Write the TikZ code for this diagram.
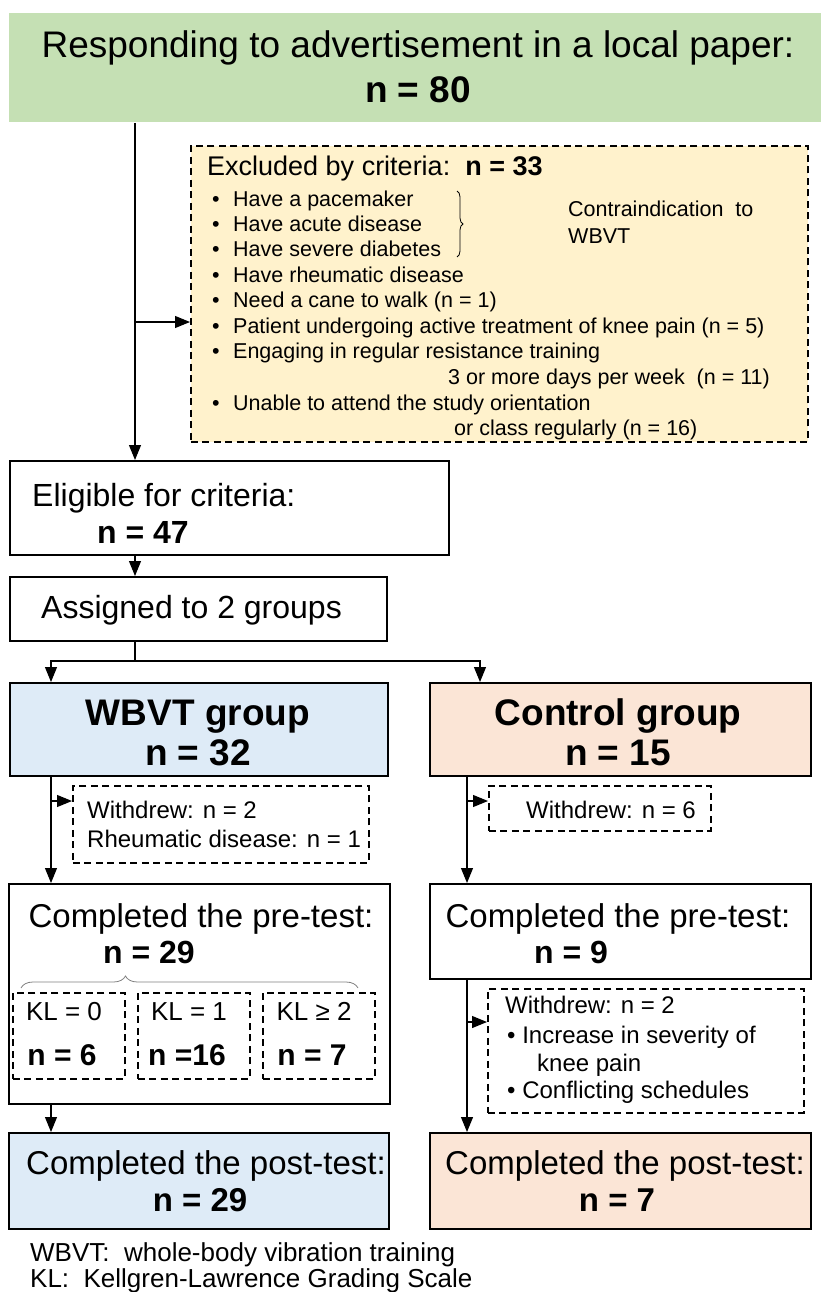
\documentclass[tikz,border=0pt]{standalone}
\usepackage{fontspec}
\setmainfont{Liberation Sans}
\usepackage{xcolor}
\usepackage{tikz}
\usetikzlibrary{arrows.meta,positioning,calc,decorations.pathreplacing}

\definecolor{adgreen}{HTML}{C5E0B4}
\definecolor{exyellow}{HTML}{FFF2CC}
\definecolor{wbblue}{HTML}{DEEBF7}
\definecolor{ctorange}{HTML}{FBE5D6}
\newcommand{\px}[1]{\fontsize{#1}{#1}\selectfont}

\begin{document}
\begin{tikzpicture}[x=1pt,y=-1pt,
  box/.style={draw, line width=1.8pt, inner sep=0pt, anchor=north west},
  dbox/.style={draw, line width=1.6pt, dash pattern=on 7pt off 4.5pt, inner sep=0pt, anchor=north west},
  link/.style={line width=1.1pt, -{Triangle[length=15pt,width=12pt]}},
  lab/.style={inner sep=0pt, anchor=base west},
  clab/.style={inner sep=0pt, anchor=base}]
  \useasboundingbox (0,0) rectangle (821,1292);

  \node[box, draw=none, fill=adgreen, minimum width=813, minimum height=109] (ad) at (8,12) {};
  \node[dbox, fill=exyellow, minimum width=617, minimum height=296] (excl) at (190,145) {};
  \node[box, minimum width=439, minimum height=94] (elig) at (9,460) {};
  \node[box, minimum width=377, minimum height=64] (assign) at (9,576) {};
  \node[box, fill=wbblue, minimum width=378, minimum height=93] (wbvt) at (9,682) {};
  \node[box, fill=ctorange, minimum width=381, minimum height=93] (ctrl) at (429,682) {};
  \node[dbox, minimum width=296, minimum height=77] (wdA) at (72,785) {};
  \node[dbox, minimum width=222, minimum height=45] (wdB) at (488,785) {};
  \node[box, minimum width=381, minimum height=220] (preA) at (8,883) {};
  \node[box, minimum width=381, minimum height=95] (preB) at (429,883) {};
  \node[dbox, minimum width=316, minimum height=124] (wdC) at (487,988) {};
  \node[box, fill=wbblue, minimum width=380, minimum height=96] (postA) at (8,1132) {};
  \node[box, fill=ctorange, minimum width=381, minimum height=96] (postB) at (429,1132) {};

  \node[clab, font=\px{37}] at (418,58) {Responding to advertisement in a local paper:};
  \node[clab, font=\bfseries\px{37}] at (418,103) {n = 80};

  \node[lab, font=\px{27}] at (207,176) {Excluded by criteria:\ \ \textbf{n = 33}};
  \foreach \y/\t in {206/Have a pacemaker, 231/Have acute disease, 256/Have severe diabetes,
      282/Have rheumatic disease, 307/Need a cane to walk (n = 1),
      333/Patient undergoing active treatment of knee pain (n = 5),
      358/Engaging in regular resistance training, 410/Unable to attend the study orientation} {
    \node[lab, font=\px{21.5}] at (212,\y) {•};
    \node[lab, font=\px{21.5}] at (233,\y) {\t};
  }
  \node[lab, font=\px{21.5}] at (448,384) {3 or more days per week\ \ (n = 11)};
  \node[lab, font=\px{21.5}] at (454,435) {or class regularly (n = 16)};
  \draw[decorate, decoration={brace, amplitude=6pt}, line width=0.8pt] (457,191) -- (457,257);
  \node[lab, font=\px{21.5}] at (568,216) {Contraindication\ \ to};
  \node[lab, font=\px{21.5}] at (568,243) {WBVT};

  \node[lab, font=\px{32}] at (32,506) {Eligible for criteria:};
  \node[lab, font=\bfseries\px{32}] at (97,543) {n = 47};
  \node[lab, font=\px{32}] at (41,618) {Assigned to 2 groups};

  \node[clab, font=\bfseries\px{37}] at (198,725) {WBVT group};
  \node[clab, font=\bfseries\px{37}] at (198,765) {n = 32};
  \node[clab, font=\bfseries\px{37}] at (618,725) {Control group};
  \node[clab, font=\bfseries\px{37}] at (618,765) {n = 15};

  \node[lab, font=\px{24}] at (87,818) {Withdrew: n = 2};
  \node[lab, font=\px{24}] at (87,847) {Rheumatic disease: n = 1};
  \node[lab, font=\px{24}] at (526,818) {Withdrew: n = 6};

  \node[clab, font=\px{33}] at (201,927) {Completed the pre-test:};
  \node[lab, font=\bfseries\px{32}] at (103,963) {n = 29};
  \draw[decorate, decoration={brace, amplitude=12pt, aspect=0.31}, gray, line width=0.8pt] (21,988) -- (358,988);
  \foreach \lbl/\num [count=\i] in {{KL = 0}/{n = 6}, {KL = 1}/{n =16}, {KL ≥ 2}/{n = 7}} {
    \pgfmathsetmacro{\cx}{12+(\i-1)*125}
    \node[dbox, minimum width=112, minimum height=86] (kl\i) at (\cx,992) {};
    \node[clab, font=\px{26}] at (\cx+52,1020) {\lbl};
    \node[clab, font=\bfseries\px{30}] at (\cx+50,1065) {\num};
  }

  \node[clab, font=\px{33}] at (618,927) {Completed the pre-test:};
  \node[lab, font=\bfseries\px{32}] at (534,963) {n = 9};
  \node[lab, font=\px{24}] at (505,1013) {Withdrew: n = 2};
  \node[lab, font=\px{24}] at (507,1043) {• Increase in severity of};
  \node[lab, font=\px{24}] at (537,1071) {knee pain};
  \node[lab, font=\px{24}] at (507,1098) {• Conflicting schedules};

  \node[clab, font=\px{33}] at (206,1174) {Completed the post-test:};
  \node[clab, font=\bfseries\px{33}] at (200,1211) {n = 29};
  \node[clab, font=\px{33}] at (625,1174) {Completed the post-test:};
  \node[clab, font=\bfseries\px{33}] at (617,1211) {n = 7};

  \node[lab, font=\px{26}] at (30,1261) {WBVT:\ \ whole-body vibration training};
  \node[lab, font=\px{26}] at (30,1287) {KL:\ \ Kellgren-Lawrence Grading Scale};

  \coordinate (trunk) at (135,0);
  \coordinate (colA) at (51,0);
  \coordinate (colB) at (467,0);
  \coordinate (colC) at (480,0);
  \coordinate (split) at (135,661);
  \coordinate (exin) at ($(excl.north west)+(0,177)$);
  \coordinate (wdAin) at ($(wdA.north west)+(0,16)$);
  \coordinate (wdBin) at ($(wdB.north west)+(0,16)$);
  \coordinate (wdCin) at ($(wdC.north west)+(0,34)$);

  \draw[link] (trunk |- ad.south) -- (trunk |- elig.north);
  \draw[link] (trunk |- exin) -- (exin);
  \draw[link] (trunk |- elig.south) -- (trunk |- assign.north);
  \draw[line width=1.1pt] (trunk |- assign.south) -- (split);
  \draw[link] (split) -| (colA |- wbvt.north);
  \draw[link] (split) -| (colC |- ctrl.north);
  \draw[link] (colA |- wbvt.south) -- (colA |- preA.north);
  \draw[link] (colA |- wdAin) -- (wdAin);
  \draw[link] (colB |- ctrl.south) -- (colB |- preB.north);
  \draw[link] (colB |- wdBin) -- (wdBin);
  \draw[link] (colA |- preA.south) -- (colA |- postA.north);
  \draw[link] (colB |- preB.south) -- (colB |- postB.north);
  \draw[link] (colB |- wdCin) -- (wdCin);
\end{tikzpicture}
\end{document}
